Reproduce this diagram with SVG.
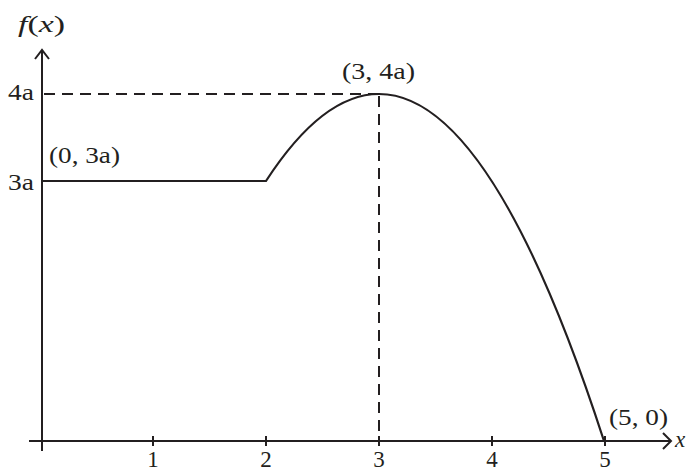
<svg xmlns="http://www.w3.org/2000/svg" width="690" height="470" viewBox="0 0 690 470">
<style>
.ax{stroke:#231f20;stroke-width:2;fill:none}
.crv{stroke:#231f20;stroke-width:2.2;fill:none}
.dash{stroke:#231f20;stroke-width:2;fill:none;stroke-dasharray:11 7}
text{font-family:'Liberation Serif','Times New Roman',Times,serif;font-size:23px;fill:#231f20}
.it{font-style:italic}
.tk{text-anchor:middle}
</style>
<rect width="690" height="470" fill="#ffffff"/>
<g id="axes">
<line class="ax" x1="42" y1="451" x2="42" y2="50"/>
<polyline class="ax" points="35,59 42,50 49,59"/>
<line class="ax" x1="29" y1="441" x2="671" y2="441"/>
<polyline class="ax" points="663,433 671,441 663,449"/>
<g id="ticks">
<line class="ax" x1="153" y1="436" x2="153" y2="446"/>
<line class="ax" x1="266" y1="436" x2="266" y2="446"/>
<line class="ax" x1="379" y1="436" x2="379" y2="446"/>
<line class="ax" x1="492" y1="436" x2="492" y2="446"/>
<line class="ax" x1="605" y1="436" x2="605" y2="446"/>
</g>
</g>
<g id="guides">
<line class="dash" x1="44" y1="94" x2="379" y2="94"/>
<line class="dash" x1="379" y1="96" x2="379" y2="441"/>
</g>
<g id="curve">
<path class="crv" d="M42,181 L266,181 Q322.5,94 379,94 Q491.5,94 604,441"/>
</g>
<g id="labels">
<text x="18" y="32" textLength="47" lengthAdjust="spacingAndGlyphs"><tspan class="it">f</tspan>(<tspan class="it">x</tspan>)</text>
<text x="8" y="100" textLength="26" lengthAdjust="spacingAndGlyphs">4a</text>
<text x="8" y="190" textLength="26" lengthAdjust="spacingAndGlyphs">3a</text>
<text x="49" y="163" textLength="71" lengthAdjust="spacingAndGlyphs">(0, 3a)</text>
<text x="342" y="79" textLength="73" lengthAdjust="spacingAndGlyphs">(3, 4a)</text>
<text x="609" y="425" textLength="59" lengthAdjust="spacingAndGlyphs">(5, 0)</text>
<text class="it" x="675" y="447">x</text>
<text class="tk" x="153" y="467">1</text>
<text class="tk" x="266" y="467">2</text>
<text class="tk" x="379" y="467">3</text>
<text class="tk" x="492" y="467">4</text>
<text class="tk" x="605" y="467">5</text>
</g>
</svg>
